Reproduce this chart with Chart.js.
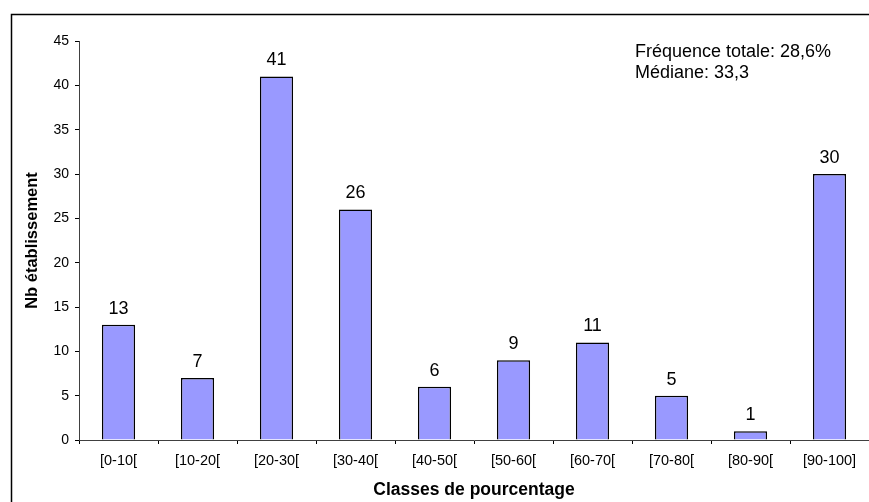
<!DOCTYPE html>
<html>
<head>
<meta charset="utf-8">
<script src="https://cdn.jsdelivr.net/npm/chart.js@4"></script>
<style>
  html, body { margin: 0; padding: 0; background: #fff; }
  canvas { display: block; }
</style>
</head>
<body>
<canvas id="chart" width="869" height="502"></canvas>
<script>
// Number of establishments per percentage class
const categories = ['[0-10[', '[10-20[', '[20-30[', '[30-40[', '[40-50[', '[50-60[', '[60-70[', '[70-80[', '[80-90[', '[90-100]'];
const counts = [13, 7, 41, 26, 6, 9, 11, 5, 1, 30];
const yTicks = [0, 5, 10, 15, 20, 25, 30, 35, 40, 45];
const notes = ['Fréquence totale: 28,6%', 'Médiane: 33,3'];
const xTitle = 'Classes de pourcentage';
const yTitle = 'Nb établissement';

const FONT = "'Liberation Sans', Arial, sans-serif";

// Outer frame of the figure
const framePlugin = {
  id: 'frame',
  afterDraw(chart) {
    const ctx = chart.ctx;
    ctx.save();
    ctx.strokeStyle = '#000';
    ctx.lineWidth = 1.5;
    ctx.strokeRect(11.5, 14.5, chart.width + 20, chart.height + 20);
    ctx.restore();
  }
};

// Value printed above each bar
const valueLabels = {
  id: 'valueLabels',
  afterDatasetsDraw(chart) {
    const ctx = chart.ctx;
    const meta = chart.getDatasetMeta(0);
    const data = chart.data.datasets[0].data;
    ctx.save();
    ctx.fillStyle = '#000';
    ctx.font = '18px ' + FONT;
    ctx.textAlign = 'center';
    ctx.textBaseline = 'alphabetic';
    meta.data.forEach((bar, i) => {
      ctx.fillText(String(data[i]), bar.x, bar.y - 11);
    });
    ctx.restore();
  }
};

// Summary statistics in the upper right corner
const notesPlugin = {
  id: 'notes',
  afterDraw(chart) {
    const ctx = chart.ctx;
    ctx.save();
    ctx.fillStyle = '#000';
    ctx.font = '18px ' + FONT;
    ctx.textAlign = 'left';
    ctx.textBaseline = 'alphabetic';
    notes.forEach((t, i) => ctx.fillText(t, 635, 56.5 + i * 21.5));
    ctx.restore();
  }
};

new Chart(document.getElementById('chart'), {
  type: 'bar',
  data: {
    labels: categories,
    datasets: [{
      data: counts,
      backgroundColor: '#9999FF',
      borderColor: '#000',
      borderWidth: 1.5,
      categoryPercentage: 1,
      barPercentage: 0.42
    }]
  },
  options: {
    responsive: false,
    animation: false,
    devicePixelRatio: 1,
    layout: { padding: { top: 41, left: 0, right: 0, bottom: 0 } },
    plugins: {
      legend: { display: false },
      tooltip: { enabled: false }
    },
    scales: {
      x: {
        offset: true,
        grid: { display: true, drawOnChartArea: false, drawTicks: true, tickLength: 4, color: '#000', offset: true },
        border: { display: true, color: '#404040', width: 1 },
        ticks: { color: '#000', font: { family: FONT, size: 14.5 }, padding: 8.5, maxRotation: 0, autoSkip: false },
        title: { display: true, text: xTitle, color: '#000', font: { family: FONT, size: 17.5, weight: 'bold', lineHeight: 1 }, padding: { top: 0, bottom: 3.5 } },
        afterFit(scale) { scale.height = 62; }
      },
      y: {
        min: 0,
        max: 45,
        afterBuildTicks(scale) { scale.ticks = yTicks.map(v => ({ value: v })); },
        grid: { display: true, drawOnChartArea: false, drawTicks: true, tickLength: 4, color: '#000' },
        border: { display: true, color: '#404040', width: 1 },
        ticks: { color: '#000', font: { family: FONT, size: 14 }, padding: 6 },
        title: { display: true, text: yTitle, color: '#000', font: { family: FONT, size: 16.5, weight: 'bold', lineHeight: 1 }, padding: { top: 24, bottom: 0 } },
        afterFit(scale) { scale.width = 79; }
      }
    }
  },
  plugins: [framePlugin, valueLabels, notesPlugin]
});
</script>
</body>
</html>
